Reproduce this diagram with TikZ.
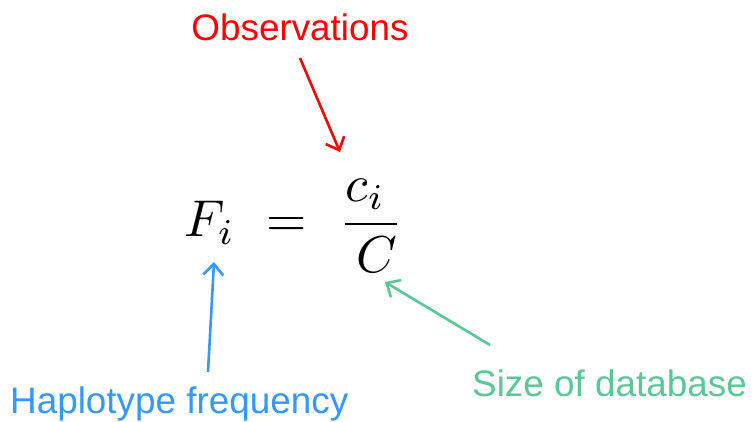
\documentclass[tikz,border=0pt]{standalone}
\usepackage{graphicx}
\usepackage{fontspec}
\setmainfont{Liberation Sans}
\usetikzlibrary{arrows.meta}
\definecolor{obsred}{RGB}{255,0,0}
\definecolor{hapblue}{RGB}{51,153,255}
\definecolor{dbgreen}{RGB}{90,200,150}
\tikzset{
  lbl/.style={inner sep=0pt, font=\fontsize{37}{44}\selectfont},
  pointer/.style={line width=2.6bp, -{Straight Barb[length=11bp,width=20bp,line width=2.6bp]}},
  eqstyle/.style={inner sep=0pt},
}
\newcommand{\eqgap}{\mskip 6mu}
\begin{document}
\begin{tikzpicture}[x=1bp,y=-1bp]
\useasboundingbox (0,0) rectangle (755,421);
\node[lbl, text=obsred, anchor=base] (obs) at (300,40) {Observations};
\node[lbl, text=hapblue, anchor=base west] (hap) at (10,413) {Haplotype frequency};
\node[lbl, text=dbgreen, anchor=base west] (db) at (472,396) {Size of database};
\node[eqstyle] (eq) at (294,226) {\scalebox{5.2}{$\displaystyle F_i \eqgap = \eqgap \frac{c_i\mskip 4mu}{\mskip 4mu C}$}};
\coordinate (r1) at (300,58);
\coordinate (r2) at (340,152);
\coordinate (b1) at (208,372);
\coordinate (b2) at (214,262);
\coordinate (g1) at (490,345);
\coordinate (g2) at (385,282);
\draw[pointer, obsred] (r1) -- (r2);
\draw[pointer, hapblue] (b1) -- (b2);
\draw[pointer, dbgreen] (g1) -- (g2);
\end{tikzpicture}
\end{document}
